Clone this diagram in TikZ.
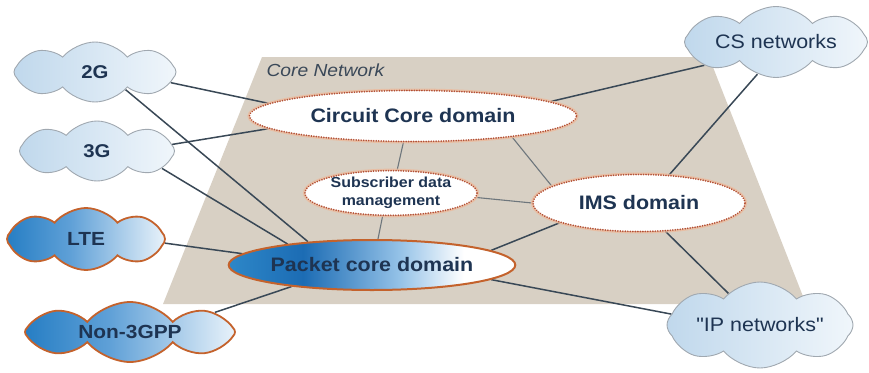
\documentclass[tikz,border=0pt]{standalone}
\usepackage{fontspec}
\setmainfont[FakeStretch=1.1]{Liberation Sans}
% same face without TeX quote ligatures, for straight quotation marks
\newfontfamily\plainquotes[FakeStretch=1.1]{Liberation Sans}
\usetikzlibrary{shapes.symbols,shapes.geometric}

\definecolor{coretan}{RGB}{216,208,196}
\definecolor{navy}{RGB}{30,52,82}
\definecolor{labelgrey}{RGB}{58,72,88}
\definecolor{linkgrey}{RGB}{57,72,86}
\definecolor{innerlink}{RGB}{110,118,124}
\definecolor{dotred}{RGB}{180,80,52}
\definecolor{halo}{RGB}{236,186,156}
\definecolor{rimorange}{RGB}{196,98,44}
\definecolor{cloudrim}{RGB}{160,168,176}
\definecolor{skyblue}{RGB}{192,216,236}
\definecolor{paleblue}{RGB}{240,246,251}
\definecolor{pcA}{RGB}{45,135,200}
\definecolor{pcB}{RGB}{28,108,180}
\definecolor{pcC}{RGB}{150,195,232}
\definecolor{radA}{RGB}{38,126,196}
\definecolor{radB}{RGB}{95,160,215}
\definecolor{radC}{RGB}{232,242,250}

% blue-to-white fills
\pgfdeclarehorizontalshading{packetshade}{100bp}{color(0bp)=(pcA); color(25bp)=(pcA); color(38bp)=(pcB); color(55bp)=(pcC); color(66bp)=(white); color(100bp)=(white)}
\pgfdeclarehorizontalshading{radioshade}{100bp}{color(0bp)=(radA); color(25bp)=(radA); color(45bp)=(radB); color(75bp)=(radC); color(100bp)=(radC)}

\pgfdeclarelayer{back}
\pgfdeclarelayer{links}
\pgfsetlayers{back,links,main}

\tikzset{
  domainnode/.style={ellipse, inner sep=0, fill=white, draw=dotred, line width=1.8pt,
    dash pattern=on 0.1pt off 2.4pt, line cap=round, text=navy,
    font=\bfseries\fontsize{19.5}{22}\selectfont,
    preaction={draw=halo, line width=4pt, opacity=0.8, solid}},
  packetnode/.style={ellipse, inner sep=0, shading=packetshade, draw=rimorange,
    line width=2pt, text=navy, font=\bfseries\fontsize{19.5}{22}\selectfont},
  puffs/.style={cloud, cloud puffs=8, cloud puff arc=100, cloud ignores aspect, inner sep=0},
  netcloud/.style={puffs, draw=cloudrim, line width=0.9pt, left color=skyblue,
    right color=paleblue, text=navy},
  radiocloud/.style={puffs, draw=rimorange, line width=1.8pt, shading=radioshade, text=navy,
    font=\bfseries\fontsize{19}{22}\selectfont},
  link/.style={draw=linkgrey, line width=1.5pt},
  innerlink/.style={draw=innerlink, line width=1.1pt},
}

\begin{document}
\begin{tikzpicture}[x=1pt, y=-1pt]
\useasboundingbox (0,0) rectangle (869,372);

% core network plane
\begin{pgfonlayer}{back}
  \fill[coretan] (262,57) -- (709,57) -- (806,304) -- (163,304) -- cycle;
\end{pgfonlayer}
\node[text=labelgrey, font=\itshape\fontsize{17.5}{20}\selectfont, anchor=west] (corelabel) at (263,70) {Core Network};

% domains
\node[domainnode, minimum width=327, minimum height=51] (cc) at (413,116) {Circuit Core domain};
\node[domainnode, minimum width=172, minimum height=43, align=center,
      font=\bfseries\fontsize{14.5}{18}\selectfont] (sub) at (391,193) {Subscriber data\\management};
\node[domainnode, minimum width=212, minimum height=57] (ims) at (639,203) {IMS domain};
\node[packetnode, minimum width=250, minimum height=50] (pc) at (372,265) {Packet core domain};

% access and external networks
\node[netcloud, minimum width=162, minimum height=60, font=\bfseries\fontsize{18.5}{22}\selectfont] (g2) at (95,72) {2G};
\node[netcloud, minimum width=155, minimum height=60, font=\bfseries\fontsize{18.5}{22}\selectfont] (g3) at (97,151) {3G};
\node[radiocloud, minimum width=158, minimum height=62] (lte) at (86,239) {LTE};
\node[radiocloud, minimum width=210, minimum height=60] (non) at (130,332) {Non-3GPP};
\node[netcloud, minimum width=183, minimum height=71, font=\fontsize{19.5}{22}\selectfont] (cs) at (776,42) {CS networks};
\node[netcloud, minimum width=186, minimum height=86, font=\plainquotes\fontsize{19.5}{22}\selectfont] (ip) at (760,325) {"IP networks"};

% connections
\begin{pgfonlayer}{links}
  \draw[link] (g2.-8) -- (cc.175);
  \draw[link] (g2.-30) -- (pc.160);
  \draw[link] (g3.5) -- (cc.185);
  \draw[link] (g3.-15) -- (pc.166);
  \draw[link] (lte.-3) -- (pc.175);
  \draw[link] (non.13) -- (pc.195);
  \draw[link] (cc.6) -- (cs.198);
  \draw[link] (ims.43) -- (cs.240);
  \draw[link] (pc.7) -- (ims.194);
  \draw[link] (pc.-7) -- (ip.173);
  \draw[link] (ims.-47) -- (ip.135);
  \draw[innerlink] (cc.250) -- (sub.75);
  \draw[innerlink] (cc.-12) -- (ims.169);
  \draw[innerlink] (sub.-3) -- (ims.180);
  \draw[innerlink] (sub.250) -- (pc.77);
\end{pgfonlayer}
\end{tikzpicture}
\end{document}
